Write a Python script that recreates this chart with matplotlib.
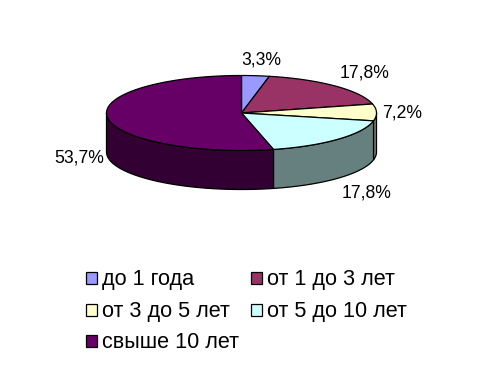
import numpy as np
import matplotlib.pyplot as plt
from matplotlib.patches import Rectangle

plt.rcParams['font.family'] = ['Liberation Sans', 'DejaVu Sans']

categories = ['до 1 года', 'от 1 до 3 лет', 'от 3 до 5 лет', 'от 5 до 10 лет', 'свыше 10 лет']
values = [3.3, 17.8, 7.2, 17.8, 53.7]
value_labels = ['3,3%', '17,8%', '7,2%', '17,8%', '53,7%']
top_colors = ['#9999FF', '#993366', '#FFFFCC', '#CCFFFF', '#660066']
wall_colors = ['#4C4C80', '#4C1933', '#808066', '#668080', '#330033']

# pie geometry in pixels
cx, cy = 241.5, 113
rx, ry = 135, 37.5
depth = 39

label_pos = [(261, 60), (365, 72.5), (402, 113), (367, 193), (79, 158)]
legend_pos = [(85.5, 278), (250.5, 278), (85.5, 310), (250.5, 310), (85.5, 341)]


def rim(a, b):
    t = np.linspace(a, b, 100)
    return cx + rx*np.sin(t), cy - ry*np.cos(t)


fig = plt.figure(figsize=(4.84, 3.77), dpi=100)
ax = fig.add_axes([0, 0, 1, 1])
ax.set_xlim(0, 484)
ax.set_ylim(377, 0)
ax.axis('off')

edges = np.cumsum([0] + values) / sum(values) * 2*np.pi

# side walls, only the front half of the rim is visible
for i in range(len(values)):
    a = max(edges[i], np.pi/2)
    b = min(edges[i+1], 3*np.pi/2)
    if b <= a:
        continue
    x, y = rim(a, b)
    ax.fill(np.r_[x, x[::-1]], np.r_[y, y[::-1] + depth], fc=wall_colors[i], ec='black', lw=0.9, zorder=2)

# top faces
for i in range(len(values)):
    x, y = rim(edges[i], edges[i+1])
    ax.fill(np.r_[cx, x], np.r_[cy, y], fc=top_colors[i], ec='black', lw=0.9, zorder=3)

for s, (x, y) in zip(value_labels, label_pos):
    ax.text(x, y, s, fontsize=12.7, ha='center', va='center', color='black')

for name, color, (x, y) in zip(categories, top_colors, legend_pos):
    ax.add_patch(Rectangle((x, y - 6), 11, 12, fc=color, ec='black', lw=0.9))
    ax.text(x + 16.5, y + 1, name, fontsize=15.6, ha='left', va='center', color='black')

fig.savefig('out.png', dpi=100)
